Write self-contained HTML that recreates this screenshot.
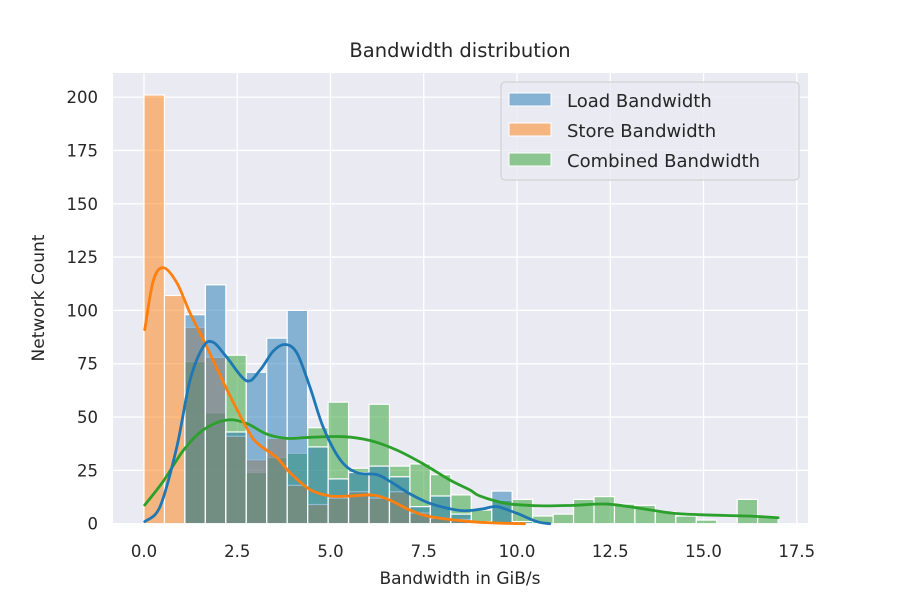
<!DOCTYPE html>
<html><head><meta charset="utf-8"><style>
body{margin:0;background:#fff;}
svg{display:block;font-family:"DejaVu Sans","Liberation Sans",sans-serif;}
</style></head><body>
<svg id="chart" width="901" height="600" viewBox="0 0 901 600">
<rect x="0" y="0" width="901" height="600" fill="#fff"/>
<rect x="113" y="73" width="695" height="451" fill="#eaeaf2"/>
<g id="grid"></g>
<g id="bars"></g>
<g id="kdes"></g>
<g id="ticks"></g>
<text x="460" y="57" text-anchor="middle" font-size="19.5" fill="#262626">Bandwidth distribution</text>
<text x="460" y="584" text-anchor="middle" font-size="17" fill="#262626">Bandwidth in GiB/s</text>
<text transform="translate(44,298) rotate(-90)" text-anchor="middle" font-size="17" fill="#262626">Network Count</text>
<g>
<rect x="501" y="82" width="298" height="98" rx="4" fill="#eaeaf2" fill-opacity="0.8" stroke="#cccccc"/>
<rect x="509" y="93" width="42" height="13" fill="#1f77b4" fill-opacity="0.5" stroke="#fff"/>
<text x="567" y="107" font-size="18" fill="#262626">Load Bandwidth</text>
<rect x="509" y="123" width="42" height="13" fill="#ff7f0e" fill-opacity="0.5" stroke="#fff"/>
<text x="567" y="137" font-size="18" fill="#262626">Store Bandwidth</text>
<rect x="509" y="153" width="42" height="13" fill="#2ca02c" fill-opacity="0.5" stroke="#fff"/>
<text x="567" y="167" font-size="18" fill="#262626">Combined Bandwidth</text>
</g>
</svg>
<script>
const binStart = 0, binEnd = 17, binCount = 31;
const loadCounts = [0,0,98,112,43,71,87,100,36,21,24,27,22,8,13,4.5,0,15.3,1,0,0,0,0,0,0,0,0,0,0,0,0];
const storeCounts = [201,107,92,78,41,30,40,18,9,12,15,12,15,5,2.5,2,1,0,0,0,0,0,0,0,0,0,0,0,0,0,0];
const combinedCounts = [0,0,76,52,79,24,31,33,45,57,26,56,27,28,23,13.5,6.4,11,11.4,3.6,4.5,11.4,12.7,9.2,8.6,5.5,3.6,1.7,0,11.4,3];
const xTicks = [0,2.5,5,7.5,10,12.5,15,17.5];
const xTickLabels = ["0.0","2.5","5.0","7.5","10.0","12.5","15.0","17.5"];
const yTicks = [0,25,50,75,100,125,150,175,200];
const storeKdeX = [0.02,0.25,0.52,0.88,1.23,1.68,2.22,2.75,3.02,3.56,3.91,4.45,4.99,5.52,6.15,6.6,7.13,7.67,8.74,9.5,10.2];
const storeKdeY = [91,114,120,113,99,83,63,45,38,31,24,16,13,13,13.4,11,6.4,3.3,1,0.3,0];
const loadKdeX = [0.02,0.43,0.88,1.23,1.59,1.86,2.22,2.75,3.11,3.47,3.79,4.1,4.45,4.81,5.26,5.7,6.24,6.6,7.13,7.67,8.38,8.74,9.1,9.46,9.99,10.53,10.88];
const loadKdeY = [1,8,36,67,83,85,78,67,72,81,84,80,64,45,30,24,23,19.8,14,9.5,6.4,6.2,7,8,4.9,1,0];
const combKdeX = [0.02,0.52,1.06,1.59,2.22,2.75,3.29,3.83,4.45,5.35,6.06,6.78,7.49,8.2,8.74,9.0,9.72,10.6,11.5,12.4,13.3,14.19,15.09,16.16,17.0];
const combKdeY = [8.75,20,34.5,44,48.6,47,42,40,40.5,40.8,39,34.5,28,20.5,15.8,13,9.5,8.4,8.6,9.2,7.2,4.9,4.1,3.6,2.8];

const NS = "http://www.w3.org/2000/svg";
const X = v => 144 + v * 37.3;
const Y = v => 523.7 - v * 2.133;
function mk(tag, attrs, parent){ const e=document.createElementNS(NS,tag); for(const k in attrs) e.setAttribute(k,attrs[k]); parent.appendChild(e); return e; }
const grid=document.getElementById('grid'), bars=document.getElementById('bars'), kdes=document.getElementById('kdes'), ticks=document.getElementById('ticks');
xTicks.forEach((t,i)=>{
  const l=mk('line',{x1:X(t),x2:X(t),y1:73,y2:524,stroke:'#fff','stroke-width':1.3},grid);
  
  
  const tx=mk('text',{x:X(t),y:557,'text-anchor':'middle','font-size':16.5,fill:'#262626'},ticks);
  tx.textContent=xTickLabels[i];
  
  
});
yTicks.forEach(t=>{
  const l=mk('line',{x1:113,x2:808,y1:Y(t),y2:Y(t),stroke:'#fff','stroke-width':1.3},grid);
  
  
  const tx=mk('text',{x:98,y:Y(t)+6,'text-anchor':'end','font-size':16.5,fill:'#262626'},ticks);
  tx.textContent=String(t);
  
  
});
const bw=(binEnd-binStart)/binCount;
const series=[[combinedCounts,'#2ca02c','combined'],[storeCounts,'#ff7f0e','store'],[loadCounts,'#1f77b4','load']];
series.forEach(([arr,col,nm])=>{
  arr.forEach((v,i)=>{
    if(v<=0) return;
    const x0=X(binStart+i*bw), x1=X(binStart+(i+1)*bw);
    const r=mk('rect',{x:x0,y:Y(v),width:x1-x0,height:Y(0)-Y(v),fill:col,'fill-opacity':0.5,stroke:'#fff','stroke-width':1.2},bars);
    
    
  });
});
function curve(xs,ys,col,nm){
  const pts=xs.map((x,i)=>[X(x),Y(ys[i])]);
  let d='M'+pts[0][0]+','+pts[0][1];
  for(let i=0;i<pts.length-1;i++){
    const p0=pts[Math.max(0,i-1)],p1=pts[i],p2=pts[i+1],p3=pts[Math.min(pts.length-1,i+2)];
    const c1=[p1[0]+(p2[0]-p0[0])/6,p1[1]+(p2[1]-p0[1])/6], c2=[p2[0]-(p3[0]-p1[0])/6,p2[1]-(p3[1]-p1[1])/6];
    d+=' C'+c1+' '+c2+' '+p2;
  }
  const p=mk('path',{d:d,fill:'none',stroke:col,'stroke-width':2.8,'stroke-linecap':'round'},kdes);
  
  
}
curve(combKdeX,combKdeY,'#2ca02c','combined');
curve(storeKdeX,storeKdeY,'#ff7f0e','store');
curve(loadKdeX,loadKdeY,'#1f77b4','load');
</script>
</body></html>
